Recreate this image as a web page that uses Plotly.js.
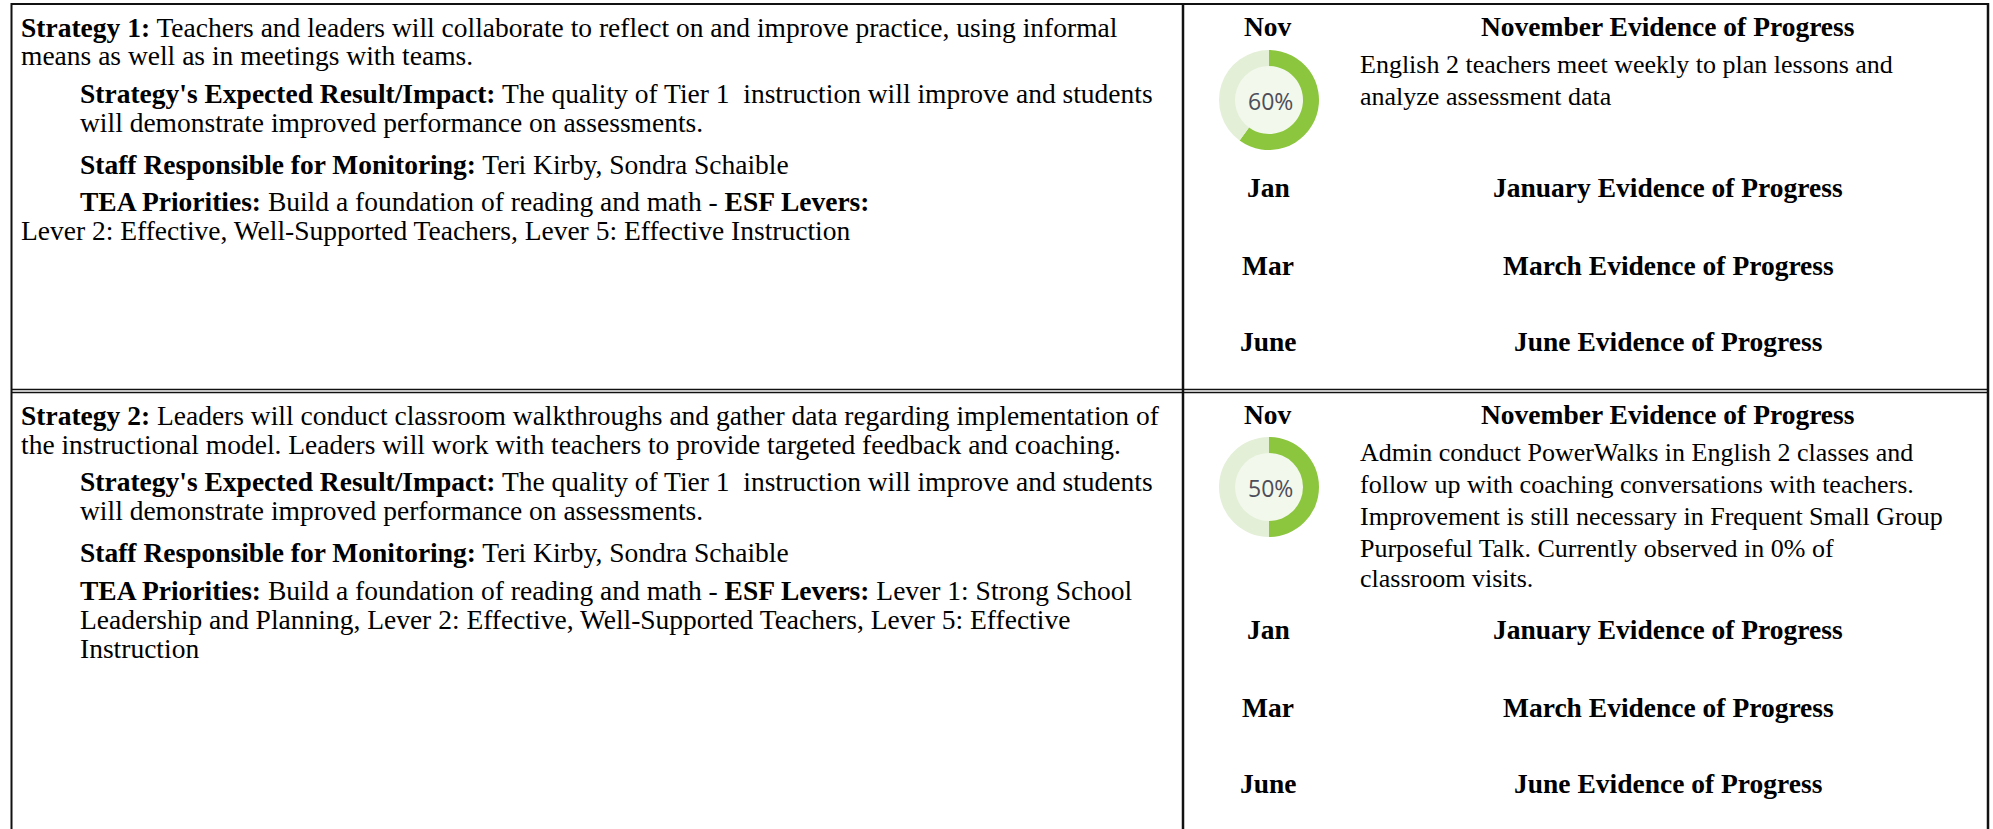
<!DOCTYPE html>
<html>
<head>
<meta charset="utf-8">
<script src="https://cdn.plot.ly/plotly-3.0.1.min.js"></script>
<style>html,body{margin:0;padding:0;background:#fff;}#chart{width:1993px;height:829px;}</style>
</head>
<body>
<div id="chart"></div>
<script>
// ---------- DATA ----------
const progress = [60, 50];
const monthShort = ['Nov', 'Jan', 'Mar', 'June'];
const monthLong = ['November', 'January', 'March', 'June'];
const strategy1Lines = [
  '<b>Strategy 1:</b> Teachers and leaders will collaborate to reflect on and improve practice, using informal',
  'means as well as in meetings with teams.',
  '<b>Strategy\'s Expected Result/Impact:</b> The quality of Tier 1\u00a0 instruction will improve and students',
  'will demonstrate improved performance on assessments.',
  '<b>Staff Responsible for Monitoring:</b> Teri Kirby, Sondra Schaible',
  '<b>TEA Priorities:</b> Build a foundation of reading and math - <b>ESF Levers:</b>',
  'Lever 2: Effective, Well-Supported Teachers, Lever 5: Effective Instruction'
];
const strategy2Lines = [
  '<b>Strategy 2:</b> Leaders will conduct classroom walkthroughs and gather data regarding implementation of',
  'the instructional model. Leaders will work with teachers to provide targeted feedback and coaching.',
  '<b>Strategy\'s Expected Result/Impact:</b> The quality of Tier 1\u00a0 instruction will improve and students',
  'will demonstrate improved performance on assessments.',
  '<b>Staff Responsible for Monitoring:</b> Teri Kirby, Sondra Schaible',
  '<b>TEA Priorities:</b> Build a foundation of reading and math - <b>ESF Levers:</b> Lever 1: Strong School',
  'Leadership and Planning, Lever 2: Effective, Well-Supported Teachers, Lever 5: Effective',
  'Instruction'
];
const evidence1Lines = [
  'English 2 teachers meet weekly to plan lessons and',
  'analyze assessment data'
];
const evidence2Lines = [
  'Admin conduct PowerWalks in English 2 classes and',
  'follow up with coaching conversations with teachers.',
  'Improvement is still necessary in Frequent Small Group',
  'Purposeful Talk. Currently observed in 0% of',
  'classroom visits.'
];

// ---------- LAYOUT CONSTANTS ----------
const W = 1993, H = 829;
const SERIF = 'Liberation Serif, Times New Roman, serif';
const FS_LEFT = 27.5, FS_HEAD = 27.5, FS_BODY = 26;
const rows = [
  {
    lines: strategy1Lines,
    lineBase: [37, 65, 103, 132, 174, 211, 240],
    lineX: [19, 19, 78, 78, 78, 78, 19],
    monthBase: [36, 197, 275, 351],
    evidence: evidence1Lines,
    evBase: [73, 105],
    donutCy: 100
  },
  {
    lines: strategy2Lines,
    lineBase: [425, 454, 491, 520, 562, 600, 629, 658],
    lineX: [19, 19, 78, 78, 78, 78, 78, 78],
    monthBase: [424, 639, 717, 793],
    evidence: evidence2Lines,
    evBase: [461, 493, 525, 557, 587],
    donutCy: 487
  }
];
const donutCx = 1269, donutR = 50;
const monthX = 1268, headX = 1668, evX = 1358;

const annotations = [];
const shapes = [];
const traces = [];

function txt(x, base, text, anchor, size) {
  annotations.push({
    x: x, y: base - size * 0.3375, xref: 'x', yref: 'y',
    text: text, showarrow: false, xanchor: anchor, yanchor: 'middle',
    align: anchor === 'center' ? 'center' : 'left',
    font: {family: SERIF, size: size, color: '#000'}
  });
}

rows.forEach((r, i) => {
  r.lines.forEach((t, k) => txt(r.lineX[k], r.lineBase[k], t, 'left', FS_LEFT));
  monthShort.forEach((m, k) => {
    txt(monthX, r.monthBase[k], '<b>' + m + '</b>', 'center', FS_HEAD);
    txt(headX, r.monthBase[k], '<b>' + monthLong[k] + ' Evidence of Progress</b>', 'center', FS_HEAD);
  });
  r.evidence.forEach((t, k) => txt(evX, r.evBase[k], t, 'left', FS_BODY));

  // hole background
  shapes.push({type: 'circle', xref: 'x', yref: 'y', layer: 'below',
    x0: donutCx - 35, x1: donutCx + 35, y0: r.donutCy - 35, y1: r.donutCy + 35,
    fillcolor: '#f2f8ec', line: {width: 0}});
  traces.push({
    type: 'pie', values: [progress[i], 100 - progress[i]], sort: false,
    direction: 'clockwise', rotation: 0, hole: 0.68, textinfo: 'none', hoverinfo: 'skip',
    marker: {colors: ['#8cc63f', '#e3efd7'], line: {width: 0}},
    domain: {x: [(donutCx - donutR) / W, (donutCx + donutR) / W],
             y: [1 - (r.donutCy + donutR) / H, 1 - (r.donutCy - donutR) / H]},
    showlegend: false
  });
  annotations.push({x: donutCx + 1, y: r.donutCy + 1, xref: 'x', yref: 'y', text: progress[i] + '%',
    showarrow: false, xanchor: 'center', yanchor: 'middle',
    font: {family: 'Open Sans, sans-serif', size: 23, color: '#4d4d5a'}});
});

// table borders
const LC = '#111';
shapes.push({type: 'line', xref: 'x', yref: 'y', x0: 11, x1: 1989, y0: 4, y1: 4, line: {color: LC, width: 2}});
shapes.push({type: 'line', xref: 'x', yref: 'y', x0: 11.5, x1: 11.5, y0: 3, y1: 829, line: {color: LC, width: 2}});
shapes.push({type: 'line', xref: 'x', yref: 'y', x0: 1988, x1: 1988, y0: 3, y1: 829, line: {color: LC, width: 2.5}});
shapes.push({type: 'line', xref: 'x', yref: 'y', x0: 1183, x1: 1183, y0: 3, y1: 829, line: {color: LC, width: 2.5}});
shapes.push({type: 'line', xref: 'x', yref: 'y', x0: 11, x1: 1989, y0: 389.5, y1: 389.5, line: {color: LC, width: 1.5}});
shapes.push({type: 'line', xref: 'x', yref: 'y', x0: 11, x1: 1989, y0: 392.5, y1: 392.5, line: {color: LC, width: 1.5}});

const layout = {
  width: W, height: H,
  margin: {l: 0, r: 0, t: 0, b: 0, pad: 0},
  paper_bgcolor: '#ffffff', plot_bgcolor: 'rgba(0,0,0,0)',
  xaxis: {range: [0, W], visible: false, fixedrange: true},
  yaxis: {range: [H, 0], visible: false, fixedrange: true},
  showlegend: false,
  annotations: annotations,
  shapes: shapes
};
// invisible scatter to establish cartesian axes
traces.unshift({type: 'scatter', x: [0, W], y: [0, H], mode: 'markers', marker: {opacity: 0}, hoverinfo: 'skip', showlegend: false});

Plotly.newPlot('chart', traces, layout, {staticPlot: true, displayModeBar: false});
</script>
</body>
</html>
